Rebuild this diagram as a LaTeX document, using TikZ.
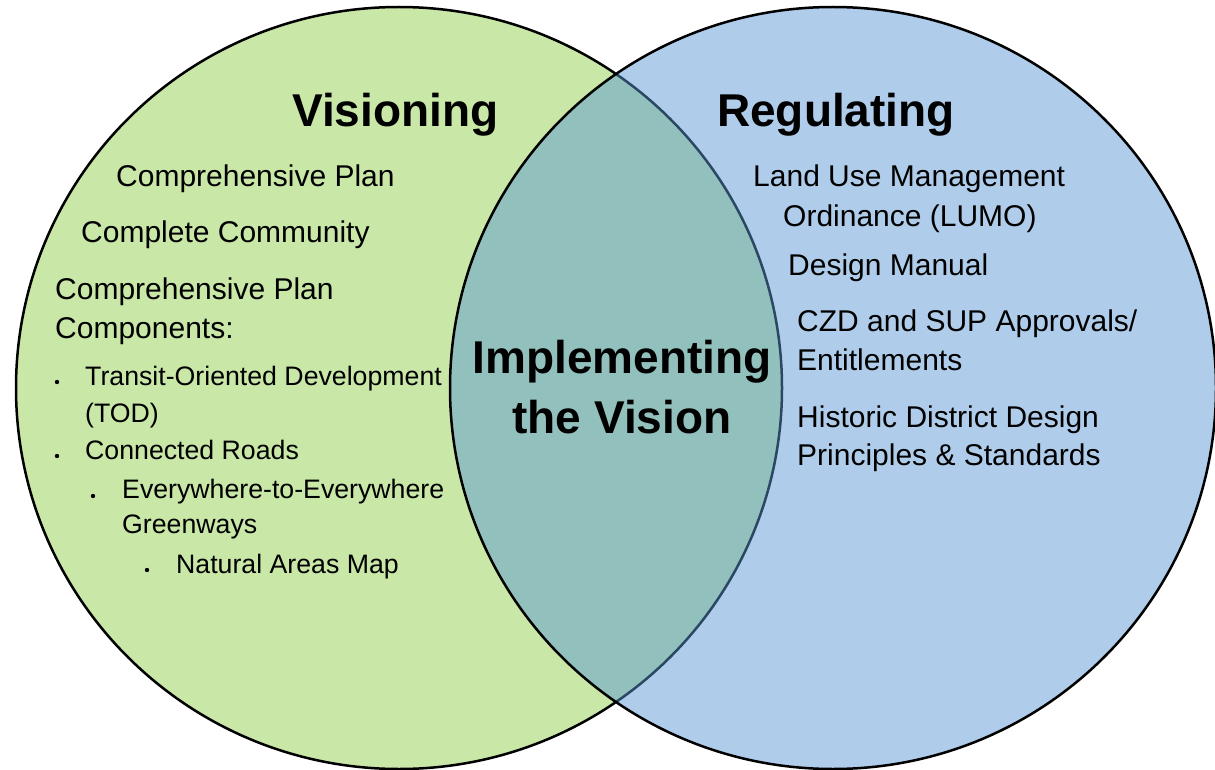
\documentclass[tikz,border=0pt]{standalone}
\usepackage{fontspec}
\setmainfont{Liberation Sans}
\definecolor{vgreen}{RGB}{201,231,167}
\definecolor{rblue}{RGB}{88,151,211}
\tikzset{
  body/.style={anchor=base west, inner sep=0pt, font=\fontsize{30}{38}\selectfont},
  small/.style={anchor=base west, inner sep=0pt, font=\fontsize{26.7}{34}\selectfont},
  title/.style={anchor=base, inner sep=0pt, font=\fontsize{46}{56}\selectfont\bfseries},
  dotmark/.style={fill=black, draw=none},
  ring/.style={draw=black, line width=2.5pt}
}
\begin{document}
\begin{tikzpicture}[x=1pt, y=-1pt]
\useasboundingbox (0,0) rectangle (1215,770);
\clip (0,0) rectangle (1215,770);
% circles
\fill[vgreen] (399,388) ellipse [x radius=383, y radius=381];
\draw[ring] (399,388) ellipse [x radius=383, y radius=381];
\fill[rblue, fill opacity=0.48] (833,388) ellipse [x radius=383, y radius=381];
\draw[ring] (833,388) ellipse [x radius=383, y radius=381];
% titles
\node[title, anchor=base west] (vis) at (292,127) {Visioning};
\node[title, anchor=base west] (reg) at (717,127) {Regulating};
\node[title] (imp1) at (622,373) {Implementing};
\node[title] (imp2) at (622,433) {the Vision};
% left items
\node[body] (l1) at (116,187) {Comprehensive Plan};
\node[body] (l2) at (81,243) {Complete Community};
\node[body] (l3a) at (55,299) {Comprehensive Plan};
\node[body] (l3b) at (55,338) {Components:};
\fill[dotmark] (57,382) circle (2.2);
\node[small] (l4a) at (85,385) {Transit-Oriented Development};
\node[small] (l4b) at (85,422) {(TOD)};
\fill[dotmark] (57,456) circle (2.2);
\node[small] (l5) at (85,459) {Connected Roads};
\fill[dotmark] (93,496) circle (2.2);
\node[small] (l6a) at (122,498) {Everywhere-to-Everywhere};
\node[small] (l6b) at (122,533) {Greenways};
\fill[dotmark] (147,570) circle (2.2);
\node[small] (l7) at (176,573) {Natural Areas Map};
% right items
\node[body] (r1a) at (753,187) {Land Use Management};
\node[body] (r1b) at (783,226) {Ordinance (LUMO)};
\node[body] (r2) at (788,275) {Design Manual};
\node[body] (r3a) at (797,331) {CZD and SUP Approvals/};
\node[body] (r3b) at (797,370) {Entitlements};
\node[body] (r4a) at (797,427) {Historic District Design};
\node[body] (r4b) at (797,465) {Principles \& Standards};
\end{tikzpicture}
\end{document}
